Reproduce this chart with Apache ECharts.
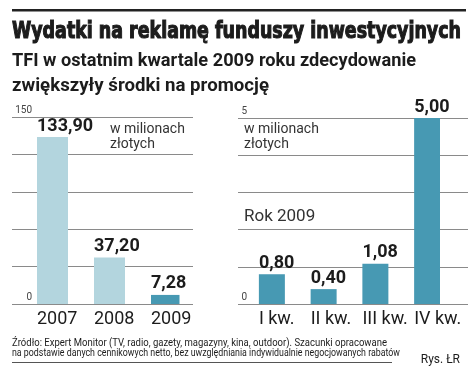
<!DOCTYPE html>
<html><head><meta charset="utf-8">
<script src="https://cdn.jsdelivr.net/npm/echarts@6/dist/echarts.min.js"></script>
<style>html,body{margin:0;padding:0;background:#fff}#c{width:475px;height:383px}</style>
</head><body><div id="c"></div>
<script>
// ---- data ----
const yearCats = ['2007', '2008', '2009'];
const yearVals = [133.90, 37.20, 7.28];
const yearLabels = ['133,90', '37,20', '7,28'];
const quarterCats = ['I kw.', 'II kw.', 'III kw.', 'IV kw.'];
const quarterVals = [0.80, 0.40, 1.08, 5.00];
const quarterLabels = ['0,80', '0,40', '1,08', '5,00'];
const leftTicks = [0, 150];
const rightTicks = [0, 5];

const LIGHT = '#b3d5de', TEAL = '#4799b3', GRID = '#8a8a8a', INK = '#1c1c1c';
const FONT = 'Roboto, "Noto Sans", sans-serif';

const cv = document.createElement('canvas').getContext('2d');
function fit(text, font, w) { cv.font = font; return w / cv.measureText(text).width; }
function txt(text, x, y, size, weight, family, width, extra) {
  const font = weight + ' ' + size + 'px ' + family;
  const sx = width ? fit(text, font, width) : 1;
  return {
    type: 'text', x: x, y: y, scaleX: sx, silent: true,
    style: Object.assign({ text: text, font: font, fill: INK, align: 'left', verticalAlign: 'middle' }, extra || {})
  };
}

const chart = echarts.init(document.getElementById('c'), null, { renderer: 'canvas' });

function yAxisFull(gi, max, ticks, labelRight) {
  return {
    type: 'value', gridIndex: gi, min: 0, max: max, interval: max / 5,
    axisLine: { show: false }, axisTick: { show: false },
    splitLine: { lineStyle: { color: GRID, width: 1 } },
    axisLabel: {
      inside: true, margin: labelRight, align: 'right', verticalAlign: 'bottom',
      fontSize: 10, color: '#444', fontFamily: FONT, padding: [0, 0, 2, 0],
      formatter: v => ticks.indexOf(v) >= 0 ? String(v) : ''
    }
  };
}
function yAxisHidden(gi, max) {
  return { type: 'value', gridIndex: gi, min: 0, max: max, show: false, splitLine: { show: false } };
}
function xAxisCat(gi, cats, show) {
  return {
    type: 'category', gridIndex: gi, data: cats, show: show,
    axisLine: { show: false }, axisTick: { show: false },
    axisLabel: { align: 'left', interval: 0, hideOverlap: false, fontSize: 18, color: INK, fontFamily: FONT, margin: 6 }
  };
}
function barLabel(labels) {
  return {
    show: true, position: [0, -2], align: 'left', verticalAlign: 'bottom',
    fontSize: 18, fontWeight: 'bold', color: INK, fontFamily: FONT,
    formatter: p => labels[p.dataIndex]
  };
}

const option = {
  animation: false,
  grid: [
    { left: 12, top: 117, width: 181, height: 187 },      // left gridlines
    { left: 8.5, top: 117, width: 171, height: 187 },     // left bars
    { left: 238, top: 118, width: 230, height: 186 },     // right gridlines
    { left: 233, top: 118, width: 207, height: 186 }      // right bars
  ],
  xAxis: [
    { type: 'category', gridIndex: 0, data: [''], show: false },
    xAxisCat(1, yearCats, true),
    { type: 'category', gridIndex: 2, data: [''], show: false },
    xAxisCat(3, quarterCats, true)
  ],
  yAxis: [
    yAxisFull(0, 150, leftTicks, 20),
    yAxisHidden(1, 150),
    yAxisFull(2, 5, rightTicks, 9),
    yAxisHidden(3, 5)
  ],
  series: [
    { type: 'bar', xAxisIndex: 1, yAxisIndex: 1, data: yearVals.map(() => null), barWidth: 31, barGap: '0%' },
    {
      type: 'bar', xAxisIndex: 1, yAxisIndex: 1, barWidth: 31, barGap: '0%',
      data: yearVals.map((v, i) => ({ value: v, itemStyle: { color: i === yearVals.length - 1 ? TEAL : LIGHT } })),
      label: barLabel(yearLabels)
    },
    { type: 'bar', xAxisIndex: 3, yAxisIndex: 3, data: quarterVals.map(() => null), barWidth: 26, barGap: '0%' },
    {
      type: 'bar', xAxisIndex: 3, yAxisIndex: 3, barWidth: 26, barGap: '0%',
      data: quarterVals, itemStyle: { color: TEAL },
      label: barLabel(quarterLabels)
    }
  ],
  graphic: [
    { type: 'rect', shape: { x: 12, y: 9, width: 454, height: 2.5 }, style: { fill: '#222' }, silent: true },
    txt('Wydatki na reklamę funduszy inwestycyjnych', 12, 32, 23, 'bold', '"DejaVu Sans Condensed", "DejaVu Sans", sans-serif', 449,
      { stroke: INK, lineWidth: 1.1 }),
    txt('TFI w ostatnim kwartale 2009 roku zdecydowanie', 12, 61, 18, 'bold', FONT, 404),
    txt('zwiększyły środki na promocję', 12, 86, 18, 'bold', FONT, 257),
    txt('w milionach', 110, 129, 14, 'normal', FONT, null, { fill: '#333' }),
    txt('złotych', 110, 144, 14, 'normal', FONT, null, { fill: '#333' }),
    txt('w milionach', 244, 129, 14, 'normal', FONT, null, { fill: '#333' }),
    txt('złotych', 244, 144, 14, 'normal', FONT, null, { fill: '#333' }),
    txt('Rok 2009', 244, 217, 17, 'normal', FONT, null, { fill: '#333' }),
    txt('Źródło: Expert Monitor (TV, radio, gazety, magazyny, kina, outdoor). Szacunki opracowane', 12, 343, 11.5, 'normal', FONT, 375),
    txt('na podstawie danych cennikowych netto, bez uwzględniania indywidualnie negocjowanych rabatów', 12, 353, 11.5, 'normal', FONT, 388),
    { type: 'rect', shape: { x: 12, y: 362, width: 380, height: 1 }, style: { fill: '#555' }, silent: true },
    txt('Rys. ŁR', 460, 360, 12, 'normal', FONT, null, { align: 'right' })
  ]
};
chart.setOption(option);
</script></body></html>
